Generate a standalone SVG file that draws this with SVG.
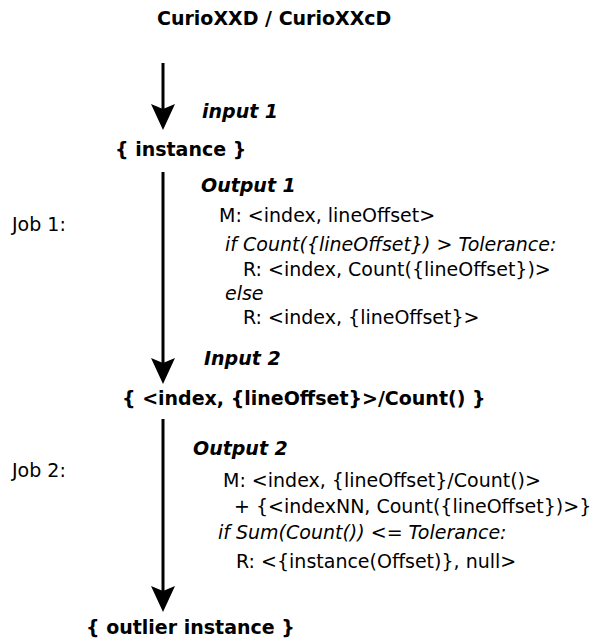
<svg xmlns="http://www.w3.org/2000/svg" width="594" height="641" viewBox="0 0 594 641">
<style>
.b{font-family:"DejaVu Sans",sans-serif;font-weight:bold;font-size:19px;fill:#000}
.bi{font-family:"DejaVu Sans",sans-serif;font-weight:bold;font-style:italic;font-size:19px;fill:#000}
.t{font-family:"DejaVu Sans",sans-serif;font-size:19px;fill:#000}
.i{font-family:"DejaVu Sans",sans-serif;font-style:italic;font-size:19px;fill:#000}
.ln{stroke:#000;stroke-width:3;fill:none}
</style>
<defs>
<path id="head" d="M0,0 L-12,-26 L0,-21 L12,-26 Z" fill="#000"/>
</defs>
<g id="connectors">
<line class="ln" x1="163" y1="63" x2="163" y2="112"/>
<use href="#head" x="163" y="130"/>
<line class="ln" x1="163" y1="172" x2="163" y2="366"/>
<use href="#head" x="163" y="384"/>
<line class="ln" x1="163" y1="419" x2="163" y2="594"/>
<use href="#head" x="163" y="612"/>
</g>
<g id="source"><text class="b" x="157" y="25">CurioXXD / CurioXXcD</text></g>
<g id="label-input1"><text class="bi" x="202" y="118">input 1</text></g>
<g id="instance"><text class="b" x="115" y="156">{ instance }</text></g>
<g id="job1">
<text class="t" x="12" y="231">Job 1:</text>
<text class="bi" x="201" y="192">Output 1</text>
<text class="t" x="219" y="222">M: &lt;index, lineOffset&gt;</text>
<text class="i" x="225" y="251">if Count({lineOffset}) &gt; Tolerance:</text>
<text class="t" x="243" y="276">R: &lt;index, Count({lineOffset})&gt;</text>
<text class="i" x="225" y="300">else</text>
<text class="t" x="243" y="324">R: &lt;index, {lineOffset}&gt;</text>
</g>
<g id="label-input2"><text class="bi" x="204" y="365">Input 2</text></g>
<g id="intermediate"><text class="b" x="122" y="405">{ &lt;index, {lineOffset}&gt;/Count() }</text></g>
<g id="job2">
<text class="t" x="12" y="477">Job 2:</text>
<text class="bi" x="193" y="455">Output 2</text>
<text class="t" x="223" y="487">M: &lt;index, {lineOffset}/Count()&gt;</text>
<text class="t" x="234" y="513">+ {&lt;indexNN, Count({lineOffset})&gt;}</text>
<text class="i" x="218" y="539">if Sum(Count()) &lt;= Tolerance:</text>
<text class="t" x="236" y="568">R: &lt;{instance(Offset)}, null&gt;</text>
</g>
<g id="outlier"><text class="b" x="86" y="634">{ outlier instance }</text></g>
</svg>
